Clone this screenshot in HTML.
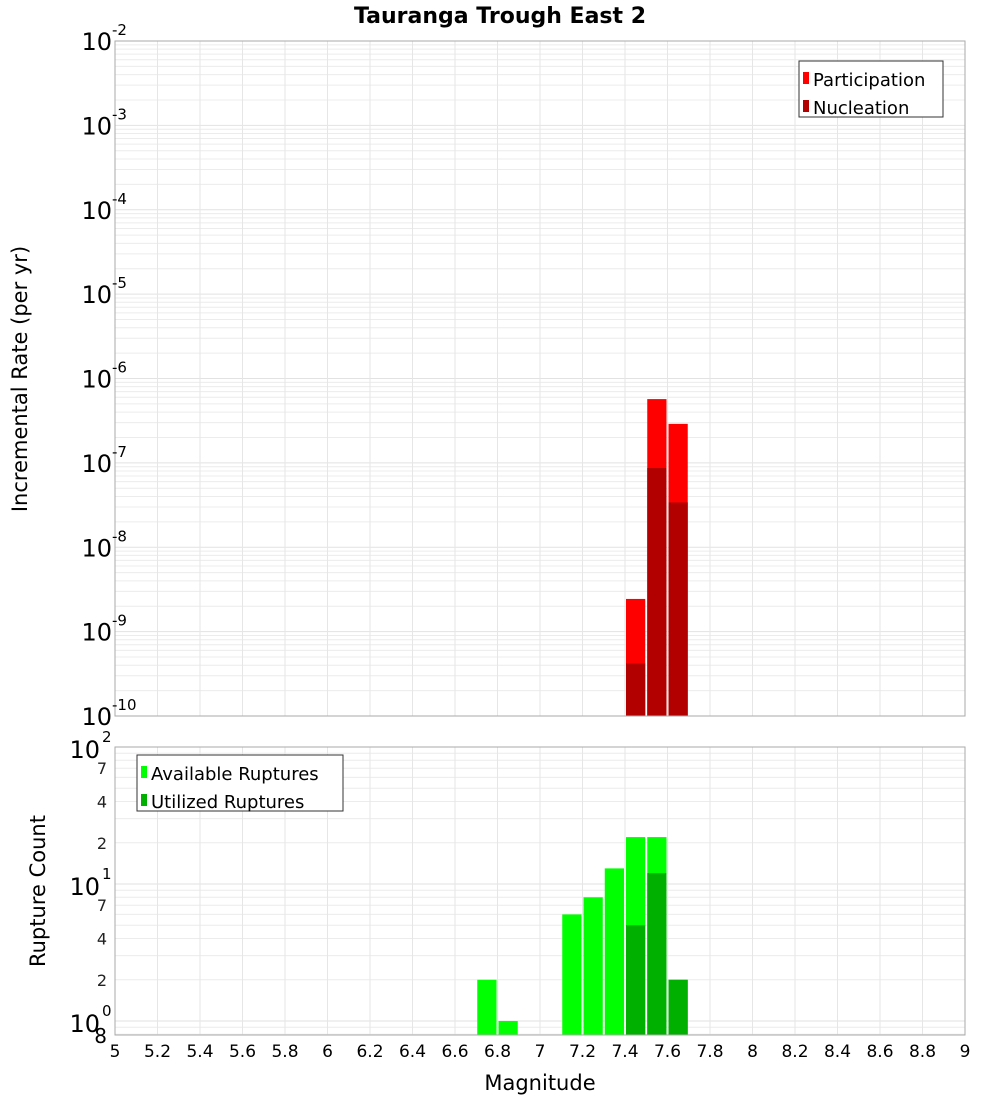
<!DOCTYPE html>
<html><head><meta charset="utf-8"><style>
body{margin:0;background:#fff;}
svg{display:block;font-family:"DejaVu Sans","Liberation Sans",sans-serif;}
</style></head><body>
<svg id="chart" width="1000" height="1100" viewBox="0 0 1000 1100">
<text x="500" y="23" text-anchor="middle" font-size="22" font-weight="bold">Tauranga Trough East 2</text>
<g id="topplot"></g><g id="botplot"></g>
<text transform="translate(27,379) rotate(-90)" text-anchor="middle" font-size="21">Incremental Rate (per yr)</text>
<text transform="translate(45,891) rotate(-90)" text-anchor="middle" font-size="21">Rupture Count</text>
<text x="540" y="1090" text-anchor="middle" font-size="21">Magnitude</text>
</svg>
<script>
const rateMags=[7.45,7.55,7.65];
const participation=[2.44e-9,5.7e-7,2.9e-7];
const nucleation=[4.2e-10,8.7e-8,3.4e-8];
const countMags=[6.75,6.85,7.15,7.25,7.35,7.45,7.55,7.65];
const available=[2,1,6,8,13,22,22,2];
const utilized=[0,0,0,0,0,5,12,2];
const xTicks=[5,5.2,5.4,5.6,5.8,6,6.2,6.4,6.6,6.8,7,7.2,7.4,7.6,7.8,8,8.2,8.4,8.6,8.8,9];
const topExps=[-2,-3,-4,-5,-6,-7,-8,-9,-10];
const botMinor=[2,4,7];

const NS="http://www.w3.org/2000/svg";
const L=115,R=965;
const x=m=>L+(m-5)/4*(R-L);
const yTop=v=>41+(-2-Math.log10(v))*84.375;
const yBot=v=>747+(2-Math.log10(v))*137;
function mk(p,t,a){const e=document.createElementNS(NS,t);for(const k in a)e.setAttribute(k,a[k]);p.appendChild(e);return e;}
const gTop=document.getElementById('topplot'),gBot=document.getElementById('botplot');

function frame(g,y0,y1,yf,lo,hi){
  mk(g,'rect',{x:L,y:y0,width:R-L,height:y1-y0,fill:'#fff'});
  for(let e=lo;e<hi;e++)for(let k=1;k<10;k++){const yy=yf(k*Math.pow(10,e));if(yy<y0||yy>y1)continue;
    const l=mk(g,'line',{x1:L,x2:R,y1:yy,y2:yy,stroke:k==1?'#e2e2e2':'#ececec','stroke-width':1});
    
    }
  xTicks.forEach(t=>{const l=mk(g,'line',{x1:x(t),x2:x(t),y1:y0,y2:y1,stroke:'#e6e6e6'});
    
    });
}
frame(gTop,41,716,yTop,-10,-2);
frame(gBot,747,1035,yBot,-1,2);

function bars(g,mags,vals,yf,y1,col,name){
  mags.forEach((m,i)=>{if(!vals[i])return;const yy=yf(vals[i]);
    const r=mk(g,'rect',{x:x(m-0.05)+1,y:yy,width:x(m+0.05)-x(m-0.05)-2,height:y1-yy,fill:col});
    
    });
}
bars(gTop,rateMags,participation,yTop,716,'#ff0000','participation-bar');
bars(gTop,rateMags,nucleation,yTop,716,'#b20000','nucleation-bar');
bars(gBot,countMags,available,yBot,1035,'#00ff00','available-bar');
bars(gBot,countMags,utilized,yBot,1035,'#00b000','utilized-bar');

[[gTop,41,716],[gBot,747,1035]].forEach(([g,a,b])=>mk(g,'rect',{x:L,y:a,width:R-L,height:b-a,fill:'none',stroke:'#aaa'}));

topExps.forEach(e=>{const yy=yTop(Math.pow(10,e));
  const t=mk(gTop,'text',{x:112,y:yy+9,'text-anchor':'end','font-size':24});t.textContent='10';
  
  
  const s=mk(gTop,'text',{x:112,y:yy-6,'font-size':15});s.textContent=String(e);
  
  });
[2,1,0].forEach(e=>{const yy=yBot(Math.pow(10,e));
  const t=mk(gBot,'text',{x:100,y:yy+11,'text-anchor':'end','font-size':24});t.textContent='10';
  
  
  const s=mk(gBot,'text',{x:102,y:yy-5,'font-size':15});s.textContent=String(e);
  
  });
[0,1].forEach(e=>botMinor.forEach(k=>{const yy=yBot(k*Math.pow(10,e));
  const t=mk(gBot,'text',{x:107,y:yy+6,'text-anchor':'end','font-size':16,fill:'#222'});t.textContent=String(k);
  
  }));
{const t=mk(gBot,'text',{x:107,y:1043,'text-anchor':'end','font-size':20});t.textContent='8';
  
  }
xTicks.forEach(t=>{const e=mk(gBot,'text',{x:x(t),y:1057,'text-anchor':'middle','font-size':17});e.textContent=String(t);
  
  });

function legend(g,x0,y0,w,items){
  mk(g,'rect',{x:x0,y:y0,width:w,height:56,fill:'#fff',stroke:'#333'});
  items.forEach(([lab,col],i)=>{const yy=y0+19+i*28;
    const r=mk(g,'rect',{x:x0+4,y:yy-8,width:6,height:12,fill:col});
    
    
    const t=mk(g,'text',{x:x0+14,y:yy+6,'font-size':18});t.textContent=lab;
    
    });
}
legend(gTop,799,61,144,[['Participation','#ff0000'],['Nucleation','#b20000']]);
legend(gBot,137,755,206,[['Available Ruptures','#00ff00'],['Utilized Ruptures','#00b000']]);
</script>
</body></html>
